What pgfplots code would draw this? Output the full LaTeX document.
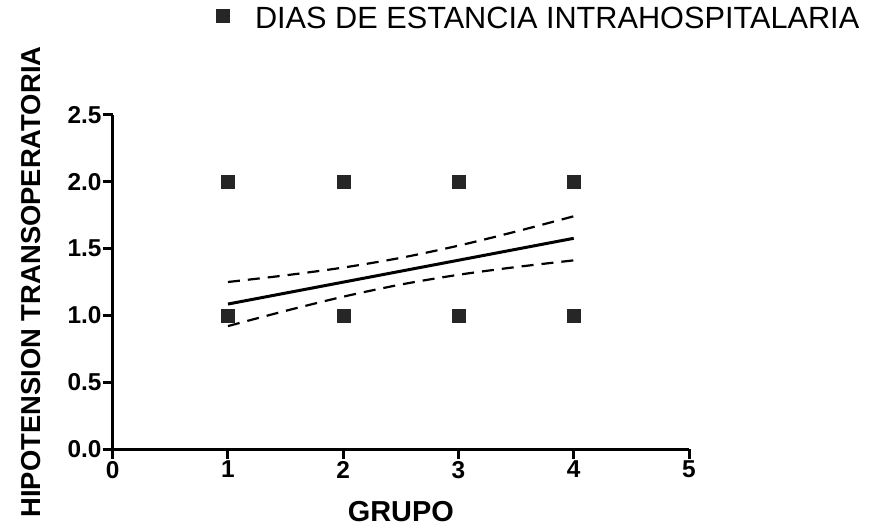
\documentclass[border=0pt]{standalone}
\usepackage{fontspec}
\setmainfont{Liberation Sans}
\usepackage{pgfplots}
\pgfplotsset{compat=1.18}
\begin{document}
\begin{tikzpicture}
\useasboundingbox (-112.7bp,-78bp) rectangle (764.3bp,449bp);
\begin{axis}[
  at={(0,0)}, anchor=south west,
  scale only axis, width=576.3bp, height=334bp,
  xmin=0, xmax=5, ymin=0, ymax=2.5,
  axis lines*=left,
  axis line style={line width=3bp, -},
  xtick={0,1,2,3,4,5},
  ytick={0,0.5,1,1.5,2,2.5},
  tick align=outside,
  major tick length=10bp,
  tick style={line width=3bp, black},
  /pgf/number format/assume math mode=true,
  ticklabel style={font=\bfseries\fontsize{24.5}{24.5}\selectfont},
  yticklabel style={inner xsep=1bp, /pgf/number format/.cd, fixed, fixed zerofill, precision=1},
  xticklabel style={inner ysep=2bp, /pgf/number format/.cd, fixed, precision=0},
  every axis x label/.style={at={(axis description cs:0.5,0)}, yshift=-63bp, anchor=center},
  every axis y label/.style={at={(axis description cs:0,0.5)}, xshift=-81.7bp, rotate=90, anchor=center},
  xlabel={\bfseries\fontsize{29}{29}\selectfont GRUPO},
  ylabel={\bfseries\fontsize{27.5}{27.5}\selectfont HIPOTENSION TRANSOPERATORIA},
  legend style={at={(axis description cs:0.179,1.296)}, anchor=west, draw=none, fill=none,
    font=\fontsize{30.8}{30.8}\selectfont, inner sep=0pt},
  legend image code/.code={\draw[#1] plot coordinates {(0bp,0bp)};},
  clip=false,
]
\addplot[only marks, mark=square*, mark size=6.5bp, black!85, mark options={draw=black!85, fill=black!85}]
  coordinates {(1,1) (1,2) (2,1) (2,2) (3,1) (3,2) (4,1) (4,2)};
\addlegendentry{\hspace*{24bp}\raisebox{-4bp}{DIAS DE ESTANCIA INTRAHOSPITALARIA}}
\addplot[forget plot, black, line width=3bp] coordinates {(1,1.085) (4,1.577)};
\addplot[forget plot, black, line width=2.2bp, dash pattern=on 12bp off 8bp, smooth]
  coordinates {(1,1.250) (1.5,1.300) (2,1.358) (2.5,1.431) (3,1.522) (3.5,1.628) (4,1.742)};
\addplot[forget plot, black, line width=2.2bp, dash pattern=on 12bp off 8bp, smooth]
  coordinates {(1,0.920) (1.5,1.034) (2,1.140) (2.5,1.231) (3,1.304) (3.5,1.362) (4,1.412)};
\end{axis}
\end{tikzpicture}
\end{document}
